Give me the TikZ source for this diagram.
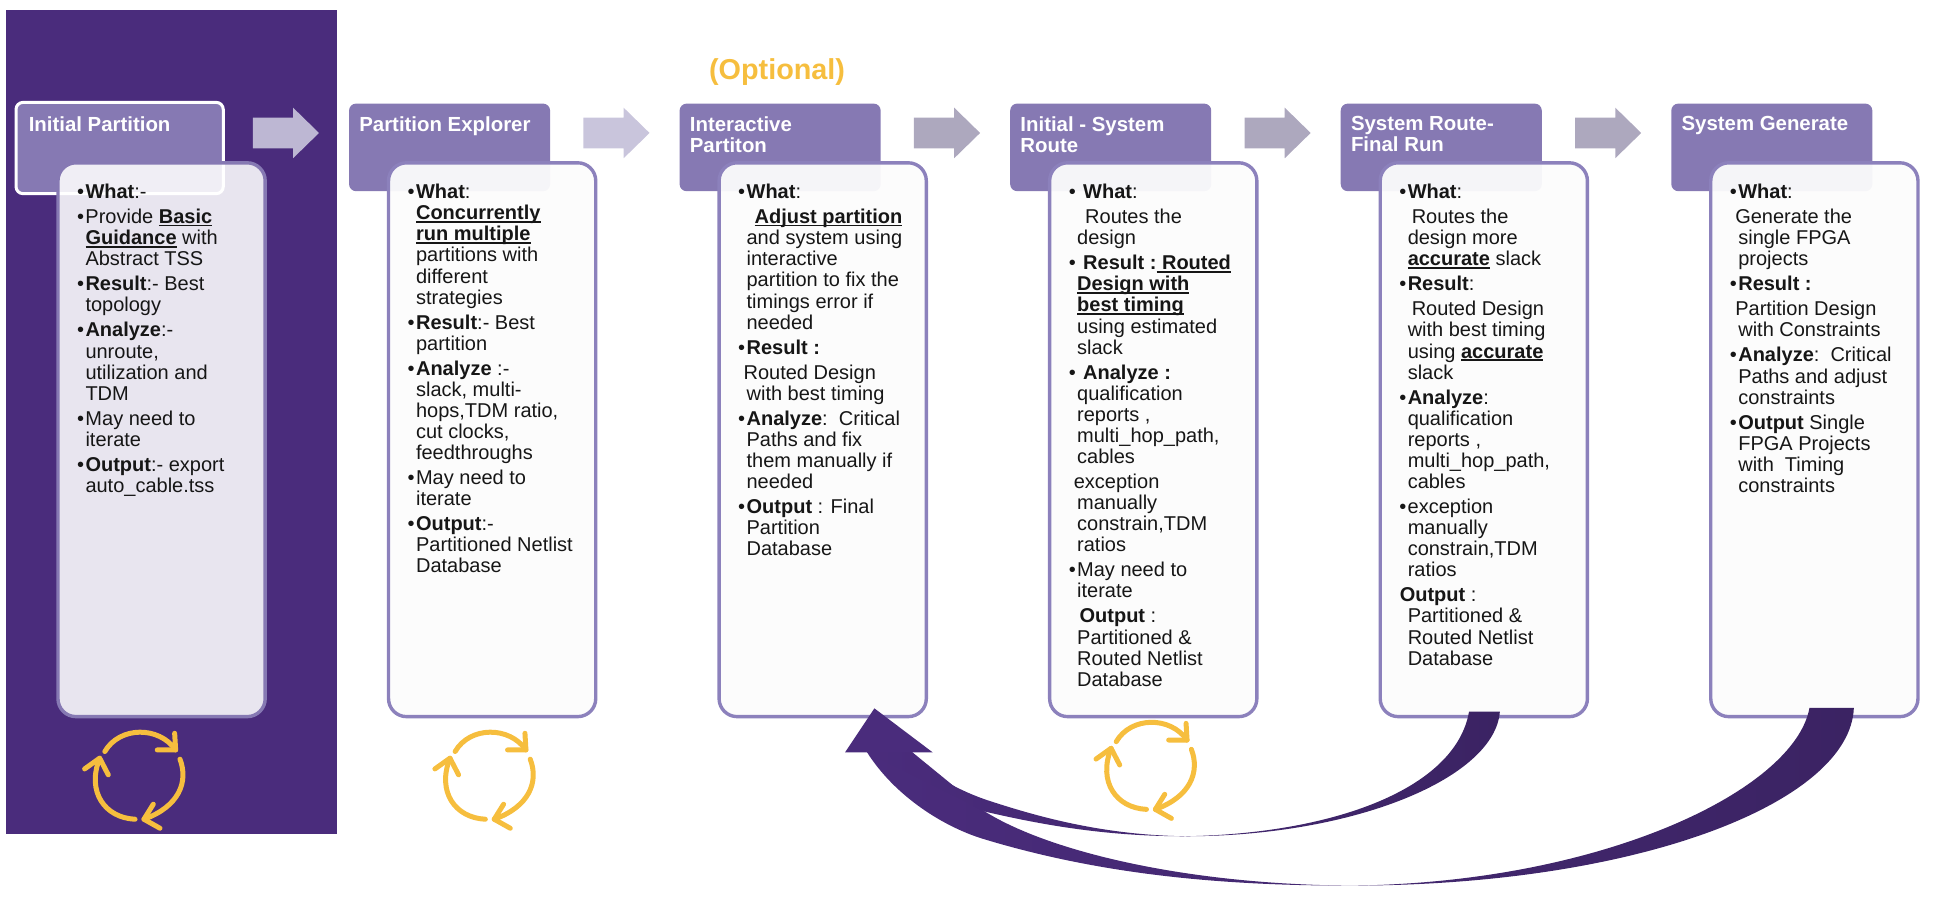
\documentclass[tikz,border=0pt]{standalone}
\usepackage{fontspec}
\setmainfont{Liberation Sans}
\definecolor{bgp}{HTML}{4A2C7C}
\definecolor{ttl}{HTML}{8679B3}
\definecolor{bord}{HTML}{8C81BC}
\definecolor{gold}{HTML}{F6BE3E}
\definecolor{dark}{HTML}{3B2363}
\definecolor{txt}{HTML}{161616}
\definecolor{bodyf}{HTML}{FCFCFC}
\def\un{0.6167pt}
\newcommand\bl{\makebox[0pt][r]{•\hspace{0.7pt}}}
\newsavebox\ubbox
\newcommand\ub[1]{\sbox\ubbox{\textbf{#1}}\rlap{\rule[-1.4pt]{\wd\ubbox}{0.75pt}}\usebox\ubbox}
\newcommand\pg{\\[1.95pt]}
\newcommand\ind[1]{\hspace*{#1}}
\tikzset{
  titlebox/.style={fill=ttl,rounded corners=3.5pt,minimum width=163*\un,minimum height=71*\un,inner sep=0pt,outer sep=0pt},
  bodybox/.style={draw=bord,line width=1.7pt,fill=bodyf,fill opacity=.95,rounded corners=9pt,minimum width=168*\un,minimum height=449*\un,inner sep=0pt,outer sep=0pt},
  titletext/.style={anchor=north west,inner sep=0pt,align=left,text=white,font=\fontsize{10.2}{10.55}\selectfont\bfseries},
  bodytext/.style={anchor=north west,inner sep=0pt,align=left,text=txt,font=\fontsize{10}{10.55}\selectfont},
  flowarrow/.pic={\fill[pic actions] (0,-12.5) -- (32.6,-12.5) -- (32.6,-20.5) -- (53.6,0) -- (32.6,20.5) -- (32.6,12.5) -- (0,12.5) -- cycle;},
  cyc/.style={draw=gold,line width=2.5pt,line cap=round,line join=round},
  cycle icon/.pic={
    \draw[cyc] (-26,-22.7) .. controls (-14,-43.4) and (18,-43.4) .. (31.4,-24);
    \draw[cyc] (30.6,-37.5) -- (31.4,-24) -- (16.5,-24);
    \draw[cyc] (34.9,-16.5) .. controls (42,2) and (34,22) .. (5.7,32.2);
    \draw[cyc] (13.3,20) -- (5.7,32.2) -- (18.7,39.5);
    \draw[cyc] (-1.5,32.2) .. controls (-26,31) and (-41,10) .. (-30.2,-17.3);
    \draw[cyc] (-42.4,-8.6) -- (-30.2,-17.3) -- (-23.2,-3.8);
  }
}
\begin{document}
\begin{tikzpicture}[x=\un,y=-\un]
\useasboundingbox (0,0) rectangle (1568,728);
\fill[bgp] (5,8) rectangle (273,676);
% titles
\node[titlebox,minimum width=168*\un,minimum height=74*\un,draw=white,line width=1.5pt] (t1) at (97,120) {};
\node[titlebox] (t2) at (364.5,119.5) {};
\node[titlebox] (t3) at (632.5,119.5) {};
\node[titlebox] (t4) at (900.5,119.5) {};
\node[titlebox] (t5) at (1168.5,119.5) {};
\node[titlebox] (t6) at (1436.5,119.5) {};
% bodies
\node[bodybox,fill=white,fill opacity=.88,draw=ttl] (b1) at (131,356.5) {};
\node[bodybox] (b2) at (399,356.5) {};
\node[bodybox] (b3) at (667,356.5) {};
\node[bodybox] (b4) at (935,356.5) {};
\node[bodybox] (b5) at (1203,356.5) {};
\node[bodybox] (b6) at (1471,356.5) {};
% arrows between steps
\pic[fill={rgb,255:red,189;green,183;blue,211}] at (205,107.8) {flowarrow};
\pic[fill={rgb,255:red,201;green,197;blue,220}] at (473,107.8) {flowarrow};
\pic[fill={rgb,255:red,173;green,168;blue,190}] at (741,107.8) {flowarrow};
\pic[fill={rgb,255:red,173;green,168;blue,190}] at (1009,107.8) {flowarrow};
\pic[fill={rgb,255:red,173;green,168;blue,190}] at (1277,107.8) {flowarrow};
% title text
\node[titletext] (tt1) at (23,94) {Initial Partition};
\node[titletext] (tt2) at (291,94) {Partition Explorer};
\node[titletext] (tt3) at (559,94) {Interactive\\Partiton};
\node[titletext] (tt4) at (827,94) {Initial - System\\Route};
\node[titletext] (tt5) at (1095,94) {System Route-\\Final Run};
\node[titletext] (tt6) at (1363,94) {System Generate};
\node[inner sep=0pt,text=gold,font=\fontsize{14.4}{15}\selectfont\bfseries] (opt) at (630,58.5) {(Optional)};
% body text
\node[bodytext] (x1) at (69,149) {\bl\textbf{What}:-\pg
\bl Provide \ub{Basic}\\
\ub{Guidance} with\\
Abstract TSS\pg
\bl\textbf{Result}:- Best\\
topology\pg
\bl\textbf{Analyze}:-\\
unroute,\\
utilization and\\
TDM\pg
\bl May need to\\
iterate\pg
\bl\textbf{Output}:- export\\
auto\_cable.tss};
\node[bodytext] (x2) at (337,149) {\bl\textbf{What}:\\
\ub{Concurrently}\\
\ub{run multiple}\\
partitions with\\
different\\
strategies\pg
\bl\textbf{Result}:- Best\\
partition\pg
\bl\textbf{Analyze} :-\\
slack, multi-\\
hops,TDM ratio,\\
cut clocks,\\
feedthroughs\pg
\bl May need to\\
iterate\pg
\bl\textbf{Output}:-\\
Partitioned Netlist\\
Database};
\node[bodytext] (x3) at (605,149) {\bl\textbf{What}:\pg
\ind{4pt}\ub{Adjust partition}\\
and system using\\
interactive\\
partition to fix the\\
timings error if\\
needed\pg
\bl\textbf{Result :}\pg
\ind{-1.5pt}Routed Design\\
with best timing\pg
\bl\textbf{Analyze}:\ \ Critical\\
Paths and fix\\
them manually if\\
needed\pg
\bl\textbf{Output} : Final\\
Partition\\
Database};
\node[bodytext] (x4) at (873,149) {\bl\ind{3pt}\textbf{What}:\pg
\ind{4pt}Routes the\\
design\pg
\bl\ind{3pt}\textbf{Result :}\ub{~Routed}\\
\ub{Design with}\\
\ub{best timing}\\
using estimated\\
slack\pg
\bl\ind{3pt}\textbf{Analyze :}\\
qualification\\
reports ,\\
multi\_hop\_path,\\
cables\pg
\ind{-1.7pt}exception\\
manually\\
constrain,TDM\\
ratios\pg
\bl May need to\\
iterate\pg
\ind{1.2pt}\textbf{Output} :\\
Partitioned \&\\
Routed Netlist\\
Database};
\node[bodytext] (x5) at (1141,149) {\bl\textbf{What}:\pg
\ind{2pt}Routes the\\
design more\\
\ub{accurate} slack\pg
\bl\textbf{Result}:\pg
\ind{2pt}Routed Design\\
with best timing\\
using \ub{accurate}\\
slack\pg
\bl\textbf{Analyze}:\\
qualification\\
reports ,\\
multi\_hop\_path,\\
cables\pg
\bl exception\\
manually\\
constrain,TDM\\
ratios\pg
\ind{-4pt}\textbf{Output} :\\
Partitioned \&\\
Routed Netlist\\
Database};
\node[bodytext] (x6) at (1409,149) {\bl\textbf{What}:\pg
\ind{-1.5pt}Generate the\\
single FPGA\\
projects\pg
\bl\textbf{Result :}\pg
\ind{-1.5pt}Partition Design\\
with Constraints\pg
\bl\textbf{Analyze}:\ \ Critical\\
Paths and adjust\\
constraints\pg
\bl\textbf{Output} Single\\
FPGA Projects\\
with\ \ Timing\\
constraints};
% cycles
\pic at (111,632) {cycle icon};
\pic at (395,632) {cycle icon};
\pic at (931,624) {cycle icon};
% feedback arrows
\coordinate (s5a) at (1191,577);
\coordinate (s5b) at (1216,577);
\coordinate (s6a) at (1467,574);
\coordinate (s6b) at (1503,574);
\coordinate (tip) at (708.9,574.3);
\coordinate (hl) at (685.1,610);
\coordinate (hr) at (756.2,610);
\coordinate (shl) at (702.7,609.5);
\coordinate (shr) at (739.2,609.5);
\coordinate (m5) at (961,678);
\coordinate (m6) at (1095,718);
\coordinate (wedge) at (798.6,658);
\shade[left color=bgp,right color=dark,shading angle=90] (s6a) -- (s6b)
  .. controls (1500,650) and (1330,718) .. (m6)
  .. controls (1000,718) and (900,711) .. (800,681)
  .. controls (765,671) and (725,645) .. (shl)
  -- (shr) -- (wedge)
  .. controls (850,690) and (960,717) .. (m6)
  .. controls (1300,716) and (1455,640) .. (s6a) -- cycle;
\shade[left color=bgp,right color=dark,shading angle=90] (s5a) -- (s5b)
  .. controls (1212,630) and (1100,678) .. (m5)
  .. controls (900,678) and (850,670) .. (wedge)
  -- (shl) -- (shr)
  .. controls (750,626) and (775,640) .. (800,648.6)
  .. controls (835,660) and (890,677) .. (m5)
  .. controls (1080,676) and (1180,640) .. (s5a) -- cycle;
\fill[bgp] (tip) -- (hr) -- (hl) -- cycle;
\end{tikzpicture}
\end{document}
